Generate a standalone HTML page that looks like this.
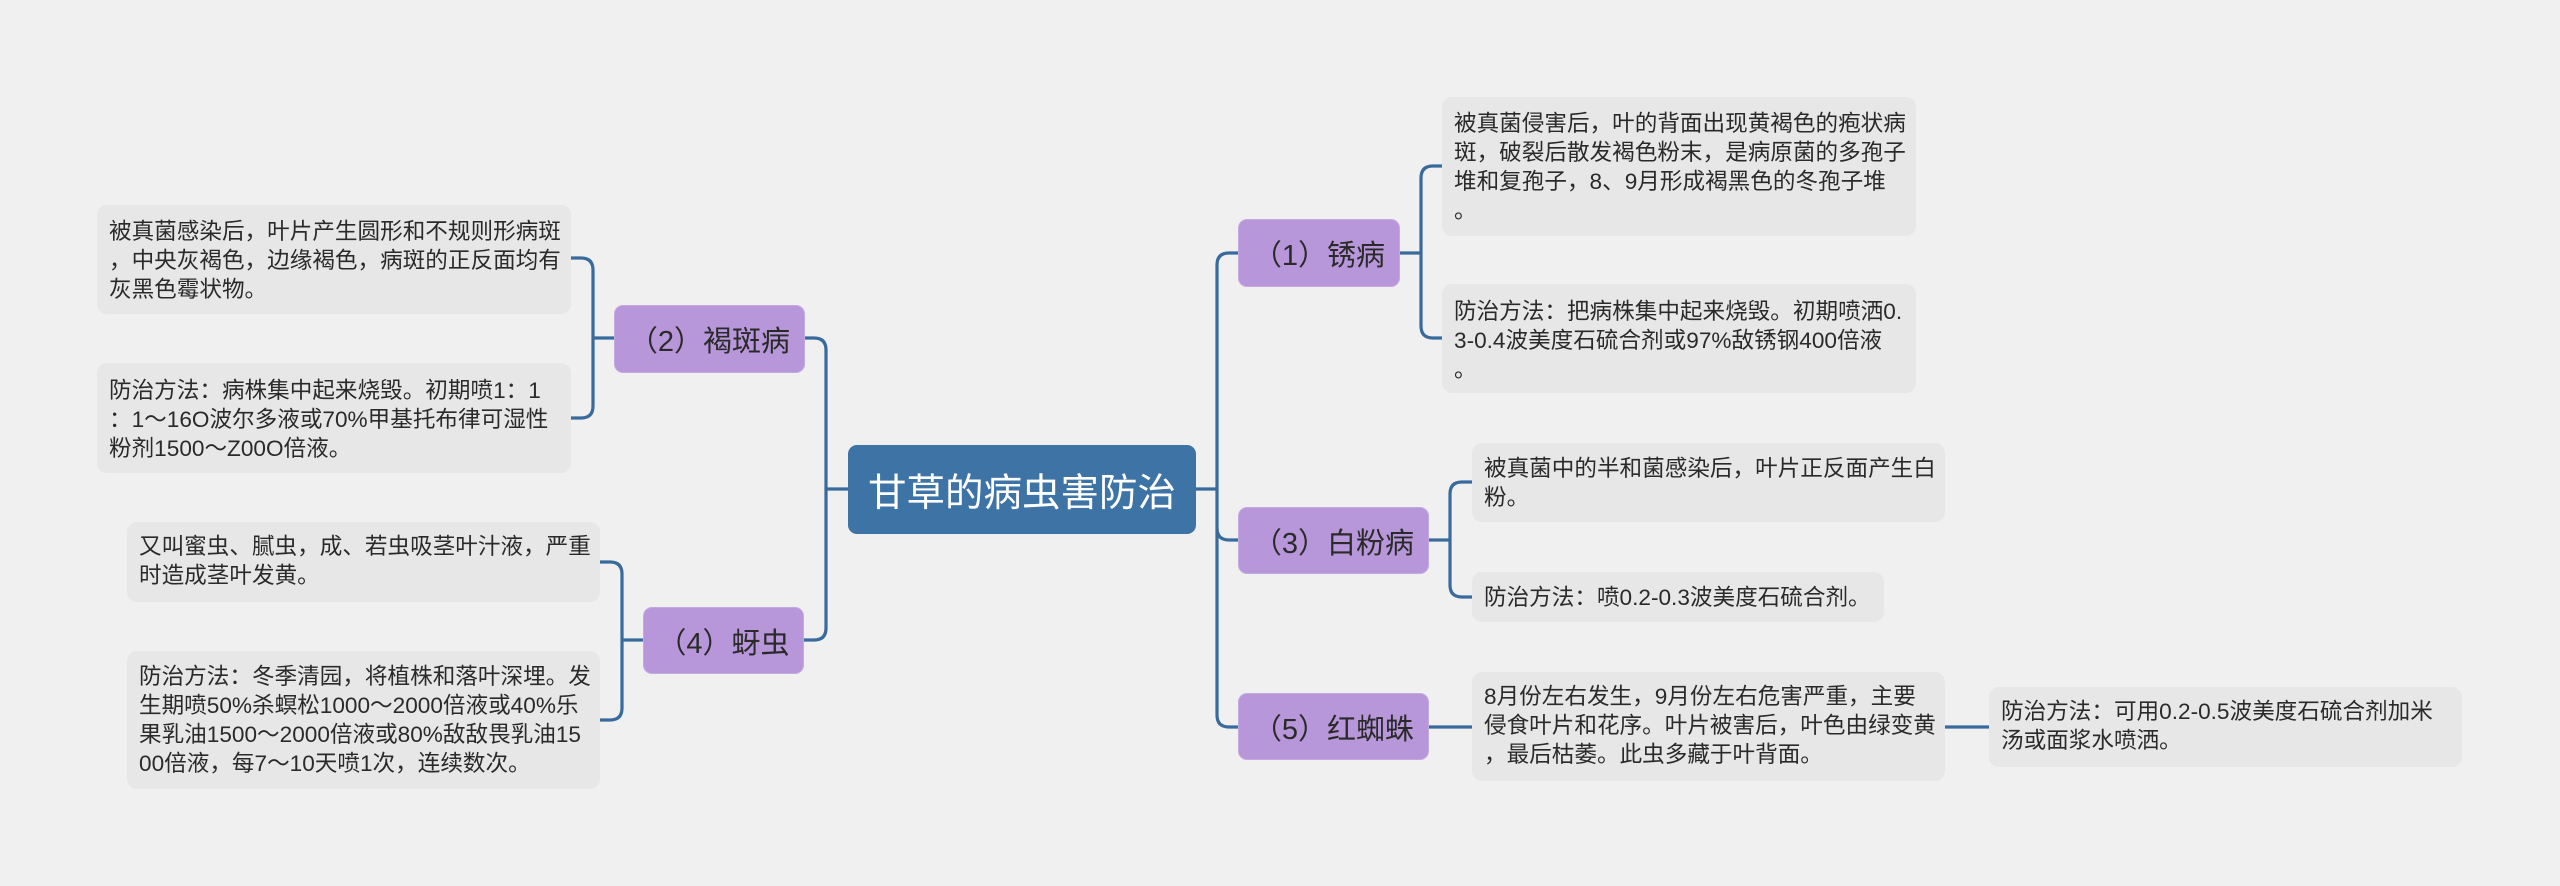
<!DOCTYPE html>
<html>
<head>
<meta charset="utf-8">
<style>
  html, body { margin:0; padding:0; }
  body { width:2560px; height:886px; background:#f0f0f0; position:relative; overflow:hidden;
         font-family:"Liberation Sans","Noto Sans CJK SC",sans-serif; }
  svg { position:absolute; left:0; top:0; }
  .leaf { position:absolute; box-sizing:border-box; background:#e7e7e7; border-radius:10px;
          padding-left:12px; font-size:22.6px; line-height:29px; color:#2a2a2a; white-space:nowrap; }
  .node { position:absolute; box-sizing:border-box; background:#b797d9; border:1px solid #c3a9e0; border-radius:9px;
          font-size:29px; color:#2a2a2a; display:flex; align-items:center; justify-content:center; white-space:nowrap; }
  .root { position:absolute; box-sizing:border-box; background:#3e73a6; border-radius:9px;
          font-size:38.5px; color:#ffffff; display:flex; align-items:center; justify-content:center; white-space:nowrap; }
</style>
</head>
<body>
<svg width="2560" height="886" viewBox="0 0 2560 886">
  <g fill="none" stroke="#386b9c" stroke-width="3.2" stroke-linecap="butt">
    <!-- left main spine -->
    <path d="M805 338 H814 Q826 338 826 350 V628 Q826 640 814 640 H804"/>
    <path d="M826 489 H848"/>
    <!-- node 2 -->
    <path d="M570 258 H581 Q593 258 593 270 V406 Q593 418 581 418 H570"/>
    <path d="M593 338 H614"/>
    <!-- node 4 -->
    <path d="M600 562 H610 Q622 562 622 574 V708 Q622 720 610 720 H600"/>
    <path d="M622 640 H643"/>
    <!-- right main spine -->
    <path d="M1238 253 H1229 Q1217 253 1217 265 V715 Q1217 727 1229 727 H1238"/>
    <path d="M1196 489 H1217"/>
    <path d="M1217 528 Q1217 540 1229 540 H1238"/>
    <!-- node 1 -->
    <path d="M1400 253 H1421"/>
    <path d="M1442 166 H1433 Q1421 166 1421 178 V326 Q1421 338 1433 338 H1442"/>
    <!-- node 3 -->
    <path d="M1429 540 H1450"/>
    <path d="M1472 482 H1462 Q1450 482 1450 494 V585 Q1450 597 1462 597 H1472"/>
    <!-- node 5 -->
    <path d="M1429 727 H1472"/>
    <path d="M1945 727 H1989"/>
  </g>
</svg>

<!-- root -->
<div class="root" style="left:848px;top:445px;width:348px;height:89px;">甘草的病虫害防治</div>

<!-- level-1 nodes -->
<div class="node" style="left:614px;top:305px;width:191px;height:68px;">（2）褐斑病</div>
<div class="node" style="left:643px;top:607px;width:161px;height:67px;">（4）蚜虫</div>
<div class="node" style="left:1238px;top:219px;width:162px;height:68px;">（1）锈病</div>
<div class="node" style="left:1238px;top:507px;width:191px;height:67px;">（3）白粉病</div>
<div class="node" style="left:1238px;top:693px;width:191px;height:67px;">（5）红蜘蛛</div>

<!-- leaves left -->
<div class="leaf" style="left:97px;top:205px;width:474px;height:109px;padding-top:12px;">被真菌感染后，叶片产生圆形和不规则形病斑<br>，中央灰褐色，边缘褐色，病斑的正反面均有<br>灰黑色霉状物。</div>
<div class="leaf" style="left:97px;top:363px;width:474px;height:110px;padding-top:13px;">防治方法：病株集中起来烧毁。初期喷1：1<br>：1～16O波尔多液或70%甲基托布律可湿性<br>粉剂1500～Z00O倍液。</div>
<div class="leaf" style="left:127px;top:522px;width:473px;height:80px;padding-top:10px;">又叫蜜虫、腻虫，成、若虫吸茎叶汁液，严重<br>时造成茎叶发黄。</div>
<div class="leaf" style="left:127px;top:651px;width:473px;height:138px;padding-top:11px;">防治方法：冬季清园，将植株和落叶深埋。发<br>生期喷50%杀螟松1000～2000倍液或40%乐<br>果乳油1500～2000倍液或80%敌敌畏乳油15<br>00倍液，每7～10天喷1次，连续数次。</div>

<!-- leaves right -->
<div class="leaf" style="left:1442px;top:97px;width:474px;height:139px;padding-top:12px;">被真菌侵害后，叶的背面出现黄褐色的疱状病<br>斑，破裂后散发褐色粉末，是病原菌的多孢子<br>堆和复孢子，8、9月形成褐黑色的冬孢子堆<br>。</div>
<div class="leaf" style="left:1442px;top:284px;width:474px;height:109px;padding-top:13px;">防治方法：把病株集中起来烧毁。初期喷洒0.<br>3-0.4波美度石硫合剂或97%敌锈钢400倍液<br>。</div>
<div class="leaf" style="left:1472px;top:443px;width:473px;height:79px;padding-top:11px;">被真菌中的半和菌感染后，叶片正反面产生白<br>粉。</div>
<div class="leaf" style="left:1472px;top:572px;width:412px;height:50px;padding-top:11px;">防治方法：喷0.2-0.3波美度石硫合剂。</div>
<div class="leaf" style="left:1472px;top:672px;width:473px;height:109px;padding-top:10px;">8月份左右发生，9月份左右危害严重，主要<br>侵食叶片和花序。叶片被害后，叶色由绿变黄<br>，最后枯萎。此虫多藏于叶背面。</div>
<div class="leaf" style="left:1989px;top:687px;width:473px;height:80px;padding-top:10px;">防治方法：可用0.2-0.5波美度石硫合剂加米<br>汤或面浆水喷洒。</div>
</body>
</html>
